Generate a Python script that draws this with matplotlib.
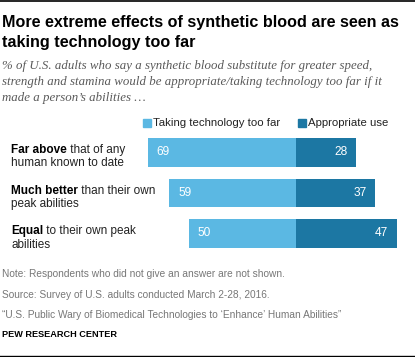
import matplotlib
matplotlib.use("Agg")
import matplotlib.pyplot as plt

categories_bold = ["Far above", "Much better", "Equal"]
categories_rest = [" that of any", " than their own", " to their own peak"]
categories_line2 = ["human known to date", "peak abilities", "abilities"]
too_far = [69, 59, 50]
appropriate = [28, 37, 47]
legend_labels = ["Taking technology too far", "Appropriate use"]

LIGHT = "#5bb8e3"
DARK = "#1c77a3"
W, H = 415, 357
SANS = "Liberation Sans"

fig = plt.figure(figsize=(W / 100, H / 100), dpi=100)
ax = fig.add_axes([0, 0, 1, 1])
# pixel mapping: divider at x=296, 2.145 px per unit; bar i center at 152.5+40.5*i
ppu = 2.145
ax.set_xlim(-296 / ppu, (W - 296) / ppu)
pitch = 40.5
ax.set_ylim((H - 152.5) / pitch, -152.5 / pitch)
ax.axis("off")

ys = list(range(len(too_far)))
bh = 28.5 / pitch
ax.barh(ys, [-v for v in too_far], height=bh, color=LIGHT, left=0)
ax.barh(ys, appropriate, height=bh, color=DARK, left=0)

for y, a, b in zip(ys, too_far, appropriate):
    ax.text(-a + 4, y, str(a), color="white", fontsize=8.6, family=SANS,
            va="center", ha="left")
    ax.text(b - 4, y, str(b), color="white", fontsize=8.6, family=SANS,
            va="center", ha="right")

def fx(px):
    return px / W

def fy(py):
    return 1 - py / H

# category labels
for y, bold, rest, l2 in zip(ys, categories_bold, categories_rest, categories_line2):
    cy = 152.5 + pitch * y
    t = fig.text(fx(11), fy(cy + 0.5), bold, fontsize=8.5, family=SANS,
                 fontweight="bold", va="baseline", ha="left", color="#000000")
    ax.annotate(rest, xy=(1, 0), xycoords=t, fontsize=8.5, family=SANS,
                va="bottom", ha="left", color="#222222")
    fig.text(fx(11), fy(cy + 14), l2, fontsize=8.5, family=SANS,
             va="baseline", ha="left", color="#222222")

# legend
fig.patches.append(plt.Rectangle((fx(143), fy(126.5)), 8 / W, 8 / H,
                                 transform=fig.transFigure, color=LIGHT))
fig.text(fx(153), fy(122.5), legend_labels[0], fontsize=8.2, family=SANS,
         va="center", ha="left", color="#222222")
fig.patches.append(plt.Rectangle((fx(298), fy(126.5)), 8 / W, 8 / H,
                                 transform=fig.transFigure, color=DARK))
fig.text(fx(308), fy(122.5), legend_labels[1], fontsize=8.2, family=SANS,
         va="center", ha="left", color="#222222")

# top & bottom rules
fig.add_artist(plt.Line2D([0, 1], [fy(1), fy(1)], color="black", lw=1.2,
                          transform=fig.transFigure))
fig.add_artist(plt.Line2D([0, 1], [fy(355.5), fy(355.5)], color="black", lw=1,
                          transform=fig.transFigure))

# title
fig.text(fx(2), fy(27.5), "More extreme effects of synthetic blood are seen as",
         fontsize=11.6, family=SANS, fontweight="bold", va="baseline", ha="left")
fig.text(fx(2), fy(47.5), "taking technology too far",
         fontsize=11.6, family=SANS, fontweight="bold", va="baseline", ha="left")

sub = ["% of U.S. adults who say a synthetic blood substitute for greater speed,",
       "strength and stamina would be appropriate/taking technology too far if it",
       "made a person\u2019s abilities \u2026"]
for i, s in enumerate(sub):
    fig.text(fx(2), fy(69 + 16 * i), s, fontsize=9.3, family="Liberation Serif",
             style="italic", va="baseline", ha="left", color="#595959")

foot = ["Note: Respondents who did not give an answer are not shown.",
        "Source: Survey of U.S. adults conducted March 2-28, 2016.",
        "\u201cU.S. Public Wary of Biomedical Technologies to \u2018Enhance\u2019 Human Abilities\u201d"]
for i, s in enumerate(foot):
    fig.text(fx(2), fy(277 + 20.5 * i), s, fontsize=7.3, family=SANS,
             va="baseline", ha="left", color="#777777")
fig.text(fx(2), fy(337), "PEW RESEARCH CENTER", fontsize=6.6, family=SANS,
         fontweight="bold", va="baseline", ha="left", color="black")

fig.savefig("out.png", dpi=100)
